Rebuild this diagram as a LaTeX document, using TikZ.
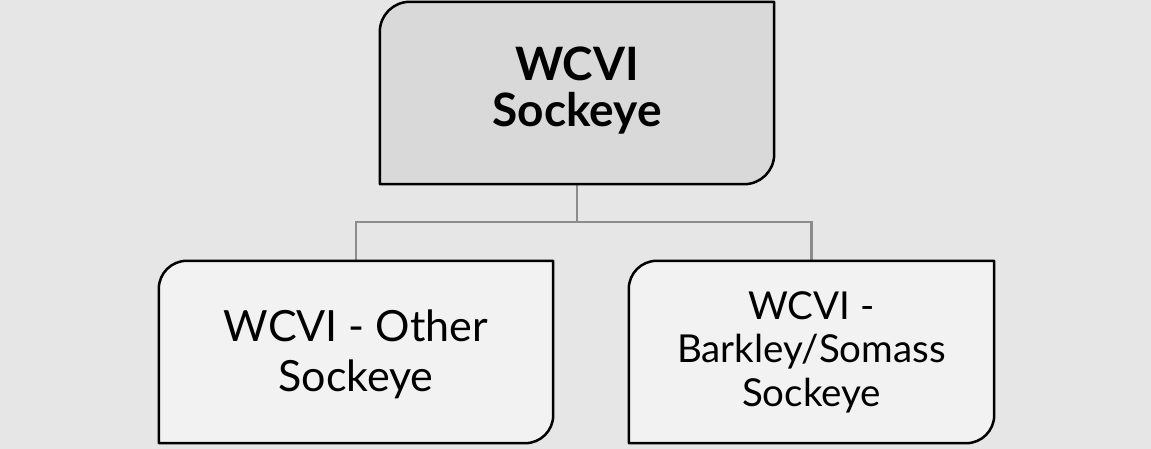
\documentclass[tikz,border=0pt]{standalone}
\usepackage{fontspec}
\setmainfont{Lato}
\definecolor{bg}{HTML}{E6E6E6}
\definecolor{topfill}{HTML}{D9D9D9}
\definecolor{childfill}{HTML}{F2F2F2}
\definecolor{conngray}{HTML}{8C8C8C}
\tikzset{
  conn/.style={draw=conngray, line width=2.2pt},
  shapeline/.style={draw=black, line width=2.5pt, line join=round},
  boxtext/.style={align=center, inner sep=0pt, text=black},
}
\newcommand\diagcornerbox[3]{% name, fill, radius
  \draw[shapeline, fill=#2] (#1.south west) -- ([yshift=-#3]#1.north west)
    arc[start angle=180, end angle=90, radius=#3] -- (#1.north east)
    -- ([yshift=#3]#1.south east)
    arc[start angle=0, end angle=-90, radius=#3] -- cycle;
}
\begin{document}
\begin{tikzpicture}[x=1pt,y=1pt]
\useasboundingbox (0,0) rectangle (1151,449);
\fill[bg] (0,0) rectangle (1151,449);
% box frames (invisible nodes give the anchors)
\node[minimum width=394pt, minimum height=182pt, inner sep=0pt] (top) at (577,356) {};
\node[minimum width=394pt, minimum height=182pt, inner sep=0pt] (left) at (356,97) {};
\node[minimum width=365pt, minimum height=182pt, inner sep=0pt] (right) at (811.5,97) {};
\coordinate (bus) at (577,227);
\draw[conn] (top.south) -- (bus);
\draw[conn] (left.north) |- (bus) -| (right.north);
\diagcornerbox{top}{topfill}{30pt}
\diagcornerbox{left}{childfill}{28pt}
\diagcornerbox{right}{childfill}{28pt}
\node[boxtext, font=\fontsize{46}{46}\selectfont\bfseries] (toptext) at ([yshift=2pt]top.center) {WCVI\\Sockeye};
\node[boxtext, font=\fontsize{43}{50}\selectfont] (lefttext) at ([yshift=-2pt]left.center) {WCVI - Other\\Sockeye};
\node[boxtext, font=\fontsize{38.5}{43.5}\selectfont] (righttext) at (right.center) {WCVI -\\Barkley/Somass\\Sockeye};
\end{tikzpicture}
\end{document}
